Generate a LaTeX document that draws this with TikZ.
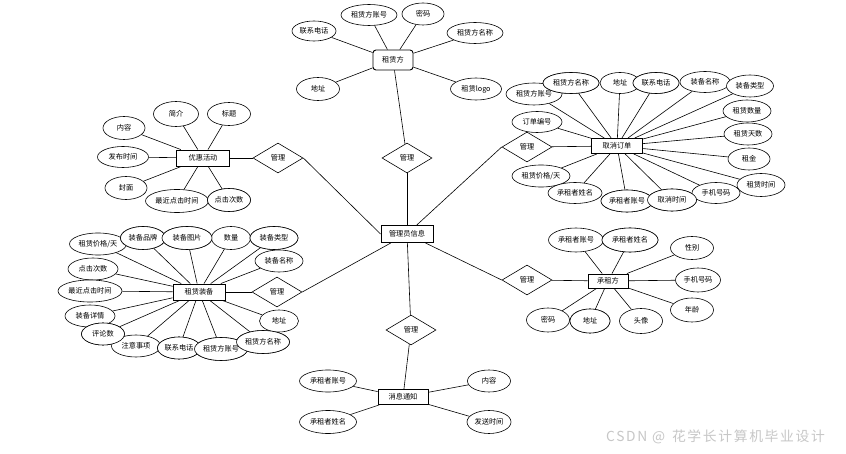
\documentclass[tikz,border=0pt]{standalone}
\usepackage{fontspec}
\setmainfont{Noto Sans CJK SC}
\newfontfamily\wmfont[LetterSpace=12]{Noto Sans CJK SC}
\usetikzlibrary{shapes.geometric}
\begin{document}
\begin{tikzpicture}[x=1pt,y=-1pt,
  every node/.style={font=\fontsize{7.2pt}{8pt}\selectfont, inner sep=0pt},
  attr/.style={ellipse, draw, line width=0.6pt, fill=white, minimum width=46pt, minimum height=22pt},
  ent/.style={rectangle, draw, line width=0.9pt, fill=white, minimum height=16pt},
  rel/.style={diamond, draw, line width=0.6pt, fill=white, minimum width=50pt, minimum height=30pt},
  link/.style={line width=0.6pt}]
\useasboundingbox (0,0) rectangle (846,454);
\fill[white] (0,0) rectangle (846,454);

% entities
\node[ent, rounded corners=3pt, minimum width=40pt, minimum height=20pt] (zlf) at (393,60) {租赁方};
\node[ent, minimum width=51pt, minimum height=15pt] (qxdd) at (617,146) {取消订单};
\node[ent, minimum width=53pt] (yhhd) at (203,158) {优惠活动};
\node[ent, minimum width=52pt] (zlzb) at (199,292) {租赁装备};
\node[ent, minimum width=52pt, minimum height=17pt] (gly) at (407,234) {管理员信息};
\node[ent, minimum width=40pt, minimum height=14pt] (czf) at (608,281) {承租方};
\node[ent, minimum width=50pt, minimum height=15pt] (xxtz) at (403,397) {消息通知};

% relationships
\node[rel] (r1) at (407,158) {管理};
\node[rel] (r2) at (278,158) {管理};
\node[rel] (r3) at (277,292) {管理};
\node[rel] (r4) at (527,147) {管理};
\node[rel] (r5) at (527,280) {管理};
\node[rel] (r6) at (411,330) {管理};

% relationship links
\draw[link] (zlf) -- (r1);
\draw[link] (r1) -- (gly);
\draw[link] (r2.east) -- (gly.west);
\draw[link] (r3.east) -- (gly);
\draw[link] (gly) -- (r4.west);
\draw[link] (gly) -- (r5.west);
\draw[link] (gly) -- (r6);
\draw[link] (r6) -- (xxtz);
\draw[link] (yhhd) -- (r2);
\draw[link] (zlzb) -- (r3);
\draw[link] (r4) -- (qxdd);
\draw[link] (r5) -- (czf);

% 租赁方 attributes
\node[attr, minimum width=44pt, minimum height=20pt] (a1) at (314,31) {联系电话};
\node[attr, minimum width=56pt, minimum height=21pt] (a2) at (369,15) {租赁方账号};
\node[attr, minimum width=42pt, minimum height=22pt] (a3) at (423,14) {密码};
\node[attr, minimum width=56pt, minimum height=21pt] (a4) at (475,33) {租赁方名称};
\node[attr, minimum width=43pt, minimum height=23pt] (a5) at (318,89) {地址};
\node[attr, minimum width=51pt, minimum height=22pt] (a6) at (476,89) {租赁logo};
\foreach \n in {a1,a2,a3,a4,a5,a6} \draw[link] (\n) -- (zlf);

% 取消订单 attributes
\node[attr, minimum width=56pt] (b1) at (534,94) {租赁方账号};
\node[attr, minimum width=56pt, minimum height=21pt] (b2) at (571,83) {租赁方名称};
\node[attr, minimum width=40pt, minimum height=21pt] (b3) at (620,83) {地址};
\node[attr, minimum width=46pt, minimum height=21pt] (b4) at (656,83) {联系电话};
\node[attr, minimum width=50pt, minimum height=21pt] (b5) at (705,82) {装备名称};
\node[attr, minimum width=47pt] (b6) at (750,86) {装备类型};
\node[attr, minimum width=50pt, minimum height=21pt] (b7) at (537,122) {订单编号};
\node[attr, minimum width=48pt] (b8) at (747,111) {租赁数量};
\node[attr, minimum width=48pt] (b9) at (748,134) {租赁天数};
\node[attr, minimum width=42pt] (b10) at (749,159) {租金};
\node[attr, minimum width=48pt, minimum height=23pt] (b11) at (761,185) {租赁时间};
\node[attr, minimum width=58pt] (b12) at (541,176) {租赁价格/天};
\node[attr, minimum width=54pt, minimum height=21pt] (b13) at (575,193) {承租者姓名};
\node[attr, minimum width=52pt] (b14) at (627,201) {承租者账号};
\node[attr, minimum width=49pt] (b15) at (672,200) {取消时间};
\node[attr, minimum width=48pt, minimum height=21pt] (b16) at (716,193) {手机号码};
\foreach \n in {b1,b2,b3,b4,b5,b6,b7,b8,b9,b10,b11,b12,b13,b14,b15,b16} \draw[link] (\n) -- (qxdd);
\node[attr, minimum width=56pt, minimum height=21pt] at (571,83) {租赁方名称};
\node[attr, minimum width=46pt, minimum height=21pt] at (656,83) {联系电话};
\node[attr, minimum width=52pt] at (627,201) {承租者账号};
\node[attr, minimum width=49pt] at (672,200) {取消时间};

% 优惠活动 attributes
\node[attr, minimum width=45pt, minimum height=25pt] (c1) at (176,114) {简介};
\node[attr, minimum width=43pt, minimum height=23pt] (c2) at (229,114) {标题};
\node[attr, minimum width=42pt, minimum height=23pt] (c3) at (124,128) {内容};
\node[attr, minimum width=51pt, minimum height=21pt] (c4) at (123,157) {发布时间};
\node[attr, minimum width=42pt, minimum height=23pt] (c5) at (126,188) {封面};
\node[attr, minimum width=63pt, minimum height=23pt] (c6) at (177,201) {最近点击时间};
\node[attr, minimum width=43pt, minimum height=23pt] (c7) at (229,200) {点击次数};
\foreach \n in {c1,c2,c3,c4,c5,c6,c7} \draw[link] (\n) -- (yhhd);
\node[attr, minimum width=43pt, minimum height=23pt] at (229,200) {点击次数};

% 租赁装备 attributes
\node[attr, minimum width=57pt] (d1) at (98,244) {租赁价格/天};
\node[attr, minimum width=45pt, minimum height=23pt] (d2) at (143,238) {装备品牌};
\node[attr, minimum width=50pt, minimum height=23pt] (d3) at (187,238) {装备图片};
\node[attr, minimum width=39pt, minimum height=23pt] (d4) at (231,238) {数量};
\node[attr, minimum width=48pt, minimum height=23pt] (d5) at (274,238) {装备类型};
\node[attr, minimum width=48pt] (d6) at (279,261) {装备名称};
\node[attr, minimum width=50pt] (d7) at (93,269) {点击次数};
\node[attr, minimum width=64pt] (d8) at (90,291) {最近点击时间};
\node[attr, minimum width=50pt] (d9) at (90,316) {装备详情};
\node[attr, minimum width=43pt] (d10) at (103,334) {评论数};
\node[attr, minimum width=49pt] (d11) at (136,346) {注意事项};
\node[attr, minimum width=43pt] (d12) at (179,348) {联系电话};
\node[attr, minimum width=53pt, minimum height=23pt] (d13) at (221,349) {租赁方账号};
\node[attr, minimum width=53pt, minimum height=23pt] (d14) at (263,342) {租赁方名称};
\node[attr, minimum width=39pt] (d15) at (279,321) {地址};
\foreach \n in {d1,d2,d3,d4,d5,d6,d7,d8,d9,d10,d11,d12,d13,d14,d15} \draw[link] (\n) -- (zlzb);
\node[attr, minimum width=45pt, minimum height=23pt] at (143,238) {装备品牌};
\node[attr, minimum width=50pt, minimum height=23pt] at (187,238) {装备图片};
\node[attr, minimum width=48pt, minimum height=23pt] at (274,238) {装备类型};
\node[attr, minimum width=43pt] at (103,334) {评论数};
\node[attr, minimum width=43pt] at (179,348) {联系电话};
\node[attr, minimum width=53pt, minimum height=23pt] at (221,349) {租赁方账号};
\node[attr, minimum width=53pt, minimum height=23pt] at (263,342) {租赁方名称};

% 承租方 attributes
\node[attr, minimum width=55pt, minimum height=24pt] (e1) at (576,240) {承租者账号};
\node[attr, minimum width=56pt, minimum height=24pt] (e2) at (630,240) {承租者姓名};
\node[attr, minimum width=43pt, minimum height=23pt] (e3) at (692,248) {性别};
\node[attr, minimum width=45pt, minimum height=24pt] (e4) at (698,280) {手机号码};
\node[attr, minimum width=43pt, minimum height=24pt] (e5) at (692,310) {年龄};
\node[attr, minimum width=43pt, minimum height=24pt] (e6) at (548,320) {密码};
\node[attr, minimum width=40pt, minimum height=24pt] (e7) at (590,321) {地址};
\node[attr, minimum width=43pt, minimum height=25pt] (e8) at (641,321) {头像};
\foreach \n in {e1,e2,e3,e4,e5,e6,e7,e8} \draw[link] (\n) -- (czf);
\node[attr, minimum width=56pt, minimum height=24pt] at (630,240) {承租者姓名};
\node[attr, minimum width=40pt, minimum height=24pt] at (590,321) {地址};

% 消息通知 attributes
\node[attr, minimum width=57pt, minimum height=22pt] (f1) at (328,381) {承租者账号};
\node[attr, minimum width=57pt, minimum height=23pt] (f2) at (328,422) {承租者姓名};
\node[attr, minimum width=43pt, minimum height=22pt] (f3) at (489,381) {内容};
\node[attr, minimum width=44pt, minimum height=23pt] (f4) at (489,422) {发送时间};
\foreach \n in {f1,f2,f3,f4} \draw[link] (\n) -- (xxtz);

% watermark
\node[anchor=west, text=black!22, font=\wmfont\fontsize{13.8pt}{15pt}\selectfont] (wm) at (606,437) {CSDN @\enspace 花学长计算机毕业设计};
\end{tikzpicture}
\end{document}
